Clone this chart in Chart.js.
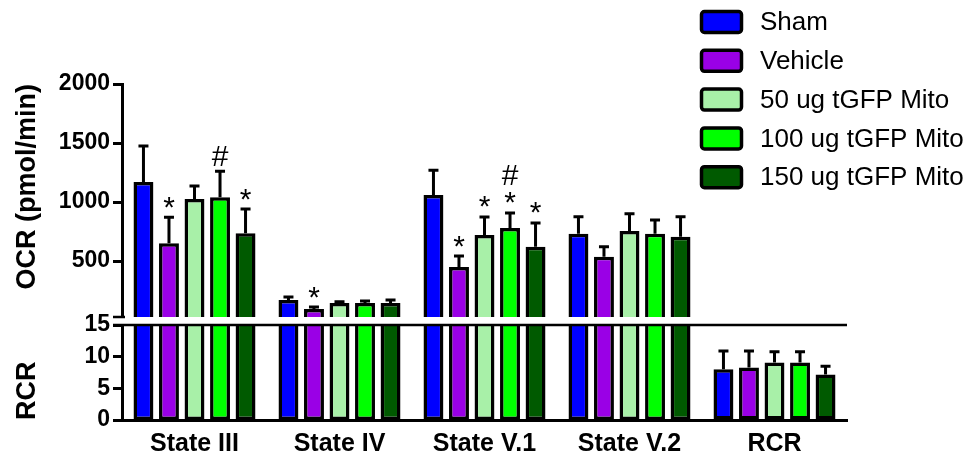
<!DOCTYPE html>
<html>
<head>
<meta charset="utf-8">
<script src="https://cdn.jsdelivr.net/npm/chart.js@4.4.0/dist/chart.umd.min.js"></script>
<style>
  html, body { margin: 0; padding: 0; background: #fff; }
  #wrap { width: 976px; height: 459px; }
</style>
</head>
<body>
<div id="wrap"><canvas id="chart" width="976" height="459"></canvas></div>
<script>
const FONT = "'Liberation Sans', Arial, sans-serif";

const categories = ['State III', 'State IV', 'State V.1', 'State V.2', 'RCR'];
const groups = ['Sham', 'Vehicle', '50 ug tGFP Mito', '100 ug tGFP Mito', '150 ug tGFP Mito'];
const colors = ['#0000ff', '#9a00e6', '#a8f0a8', '#00ff00', '#005a00'];

// OCR (pmol/min): State III, State IV, State V.1, State V.2
const ocrSham    = [1170, 170, 1060, 730];
const ocrVehicle = [650, 93, 450, 535];
const ocr50      = [1025, 144, 720, 755];
const ocr100     = [1040, 144, 780, 730];
const ocr150     = [735, 144, 620, 705];

const ocrErrSham    = [305, 25, 210, 145];
const ocrErrVehicle = [220, 17, 92, 85];
const ocrErr50      = [110, 10, 153, 145];
const ocrErr100     = [220, 17, 127, 118];
const ocrErr150     = [205, 25, 203, 170];

// RCR per group
const rcrValues = [8.0, 8.3, 9.1, 9.1, 7.2];
const rcrErrors = [2.9, 2.6, 1.7, 1.7, 1.3];

// significance marks (bottom to top)
const marksSham    = ['', '', '', ''];
const marksVehicle = ['*', '*', '*', ''];
const marks50      = ['', '', '*', ''];
const marks100     = ['#', '', '*#', ''];
const marks150     = ['*', '', '*', ''];

const ocrTicks = [500, 1000, 1500, 2000];
const rcrTicks = [0, 5, 10, 15];

const ocrValues = [ocrSham, ocrVehicle, ocr50, ocr100, ocr150];
const ocrErrors = [ocrErrSham, ocrErrVehicle, ocrErr50, ocrErr100, ocrErr150];
const sigMarks = [marksSham, marksVehicle, marks50, marks100, marks150];

// OCR bars run down through the break to the RCR zero line
function ocrBase(ctx) {
  const s = ctx.chart.scales;
  if (!s.yOCR || !s.yRCR) return 0;
  const v = s.yOCR.getValueForPixel(s.yRCR.getPixelForValue(0));
  return isFinite(v) ? v : 0;
}

const datasets = [];
groups.forEach((g, i) => {
  datasets.push({
    label: g,
    data: ocrValues[i].concat([null]),
    errors: ocrErrors[i].concat([null]),
    marks: sigMarks[i].concat(['']),
    yAxisID: 'yOCR',
    backgroundColor: colors[i],
    base: ocrBase,
    clip: false
  });
});
groups.forEach((g, i) => {
  datasets.push({
    label: g,
    data: [null, null, null, null, rcrValues[i]],
    errors: [null, null, null, null, rcrErrors[i]],
    marks: ['', '', '', '', ''],
    yAxisID: 'yRCR',
    backgroundColor: colors[i]
  });
});

const errorBars = {
  id: 'errorBars',
  afterDatasetsDraw(chart) {
    const ctx = chart.ctx;
    ctx.save();
    ctx.strokeStyle = '#000';
    ctx.lineWidth = 3;
    ctx.fillStyle = '#000';
    ctx.font = '30px ' + FONT;
    ctx.textAlign = 'center';
    ctx.textBaseline = 'alphabetic';
    chart.data.datasets.forEach((ds, i) => {
      const meta = chart.getDatasetMeta(i);
      const scale = chart.scales[ds.yAxisID];
      meta.data.forEach((bar, j) => {
        const v = ds.data[j], e = ds.errors[j];
        if (v == null || e == null) return;
        const yTop = scale.getPixelForValue(v + e);
        ctx.beginPath();
        ctx.moveTo(bar.x, bar.y);
        ctx.lineTo(bar.x, yTop);
        ctx.moveTo(bar.x - 5, yTop);
        ctx.lineTo(bar.x + 5, yTop);
        ctx.stroke();
        const m = ds.marks[j] || '';
        m.split('').forEach((c, k) => {
          const tm = ctx.measureText(c);
          const cy = yTop - 15 - k * 23;
          ctx.fillText(c, bar.x, cy + (tm.actualBoundingBoxAscent - tm.actualBoundingBoxDescent) / 2);
        });
      });
    });
    ctx.restore();
  }
};

const axisBreak = {
  id: 'axisBreak',
  afterDatasetsDraw(chart) {
    const ctx = chart.ctx;
    const top = chart.scales.yOCR;
    const bot = chart.scales.yRCR;
    const area = chart.chartArea;
    const yBreak = top.bottom;
    const yLine = bot.getPixelForValue(15);
    ctx.save();
    ctx.fillStyle = '#fff';
    ctx.fillRect(area.left - 12, yBreak - 3, area.right - area.left + 16, Math.max(0, yLine - yBreak + 2));
    ctx.strokeStyle = '#000';
    ctx.lineWidth = 2.5;
    ctx.beginPath();
    ctx.moveTo(area.left - 9, yBreak - 3);
    ctx.lineTo(area.left + 3, yBreak - 3);
    ctx.moveTo(area.left - 9, yLine);
    ctx.lineTo(area.right, yLine);
    ctx.stroke();
    ctx.restore();
  }
};

const sideLegend = {
  id: 'sideLegend',
  afterDraw(chart) {
    const ctx = chart.ctx;
    ctx.save();
    ctx.font = '26px ' + FONT;
    ctx.textBaseline = 'middle';
    ctx.textAlign = 'left';
    chart.data.datasets.slice(0, groups.length).forEach((ds, i) => {
      const y = 22 + i * 38.8;
      ctx.beginPath();
      ctx.roundRect(701.5, y - 10.5, 40, 21, 3);
      ctx.fillStyle = ds.backgroundColor;
      ctx.fill();
      ctx.lineWidth = 3.5;
      ctx.strokeStyle = '#000';
      ctx.stroke();
      ctx.fillStyle = '#000';
      ctx.fillText(ds.label, 760, y + 1);
    });
    ctx.restore();
  }
};

const yCommon = {
  position: 'left',
  stack: 'left',
  border: { display: true, color: '#000', width: 3 },
  grid: { drawOnChartArea: false, color: '#000', tickColor: '#000', tickWidth: 3, tickLength: 9 },
  ticks: { color: '#000', padding: 3, autoSkip: false, callback: v => String(v),
           font: { family: FONT, size: 23, weight: 'bold' } },
  afterFit(scale) { scale.width = 122; }
};

new Chart(document.getElementById('chart'), {
  type: 'bar',
  data: { labels: categories, datasets: datasets },
  options: {
    responsive: false,
    animation: false,
    layout: { padding: { top: 84, right: 129, bottom: 0, left: 0 } },
    datasets: {
      bar: {
        skipNull: true,
        borderColor: '#000',
        borderWidth: 3.5,
        borderSkipped: false,
        categoryPercentage: 0.88,
        barPercentage: 0.78
      }
    },
    plugins: {
      legend: { display: false },
      tooltip: { enabled: false }
    },
    scales: {
      x: {
        offset: true,
        border: { display: true, color: '#000', width: 3 },
        grid: { display: false, drawTicks: false },
        ticks: { color: '#000', padding: 9, font: { family: FONT, size: 25, weight: 'bold' } },
        afterFit(scale) { scale.height = 39; }
      },
      // left boxes are laid out in reverse order, so the lower panel comes first
      yRCR: Object.assign({}, yCommon, {
        stackWeight: 100,
        min: 0,
        max: 15.8,
        afterBuildTicks(scale) { scale.ticks = rcrTicks.map(v => ({ value: v })); },
        title: { display: true, text: 'RCR', align: 'start', color: '#000',
                 padding: { top: 11, bottom: 0 }, font: { family: FONT, size: 27, weight: 'bold' } }
      }),
      yOCR: Object.assign({}, yCommon, {
        stackWeight: 236,
        min: 0,
        max: 2000,
        afterBuildTicks(scale) { scale.ticks = ocrTicks.map(v => ({ value: v })); },
        title: { display: true, text: 'OCR (pmol/min)', align: 'end', color: '#000',
                 padding: { top: 11, bottom: 0 }, font: { family: FONT, size: 27, weight: 'bold' } }
      })
    }
  },
  plugins: [errorBars, axisBreak, sideLegend]
});
</script>
</body>
</html>
